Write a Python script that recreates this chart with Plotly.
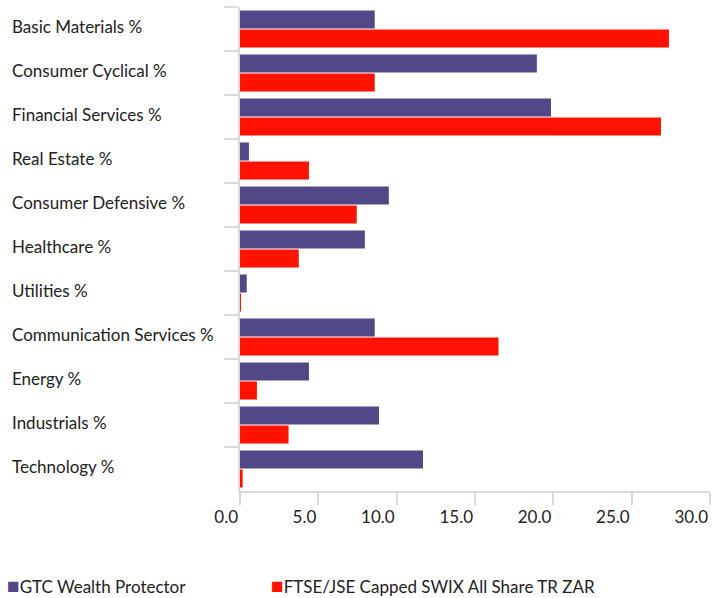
import plotly.graph_objects as go

categories = [
    "Basic Materials %",
    "Consumer Cyclical %",
    "Financial Services %",
    "Real Estate %",
    "Consumer Defensive %",
    "Healthcare %",
    "Utilities %",
    "Communication Services %",
    "Energy %",
    "Industrials %",
    "Technology %",
]
gtc_values = [8.6, 18.95, 19.85, 0.57, 9.5, 7.97, 0.43, 8.6, 4.4, 8.87, 11.68]
ftse_values = [27.38, 8.6, 26.87, 4.4, 7.45, 3.75, 0.05, 16.5, 1.08, 3.1, 0.17]
series_names = ["GTC Wealth Protector", "FTSE/JSE Capped SWIX All Share TR ZAR"]
x_ticks = [0, 5, 10, 15, 20, 25, 30]

PURPLE = "#524888"
RED = "#FF1200"
GRID = "#d9d9d9"
FONT = "Lato"
TEXT = "#222222"

fig = go.Figure()
fig.add_trace(go.Bar(y=categories, x=gtc_values, orientation="h", name=series_names[0],
                     marker=dict(color=PURPLE, line=dict(width=0))))
fig.add_trace(go.Bar(y=categories, x=ftse_values, orientation="h", name=series_names[1],
                     marker=dict(color=RED, line=dict(width=0))))

L, R, T, B = 240, 2, 7, 107
W, H = 712, 598
pw = W - L - R
ph = H - T - B

annotations = []
for c in categories:
    annotations.append(dict(text=c, xref="paper", yref="y", x=(10 - L) / pw, y=c,
                            xanchor="left", yanchor="middle", showarrow=False, yshift=3,
                            font=dict(family=FONT, size=17, color=TEXT)))
legend_colors = [PURPLE, RED]
legend_x = [5, 269]
for name, col, lx in zip(series_names, legend_colors, legend_x):
    annotations.append(dict(text=f"<span style='color:{col};font-size:21px'>■</span>{name}",
                            xref="paper", yref="paper", x=(lx - L) / pw,
                            y=-(584 - T - ph) / ph,
                            xanchor="left", yanchor="middle", showarrow=False,
                            font=dict(family=FONT, size=17, color=TEXT)))

fig.update_layout(
    width=W, height=H,
    margin=dict(l=L, r=R, t=T, b=B, pad=0),
    paper_bgcolor="white", plot_bgcolor="white",
    barmode="group", bargap=0.136, bargroupgap=0.05,
    showlegend=False,
    font=dict(family=FONT, size=17, color=TEXT),
    annotations=annotations,
)
fig.update_xaxes(range=[0, 30], tickvals=x_ticks, tickformat=".1f",
                 ticks="outside", ticklen=12, tickwidth=2, tickcolor=GRID,
                 showline=True, linecolor=GRID, linewidth=2, showgrid=False,
                 zeroline=False, ticklabelposition="outside left", ticklabelstandoff=10,
                 tickfont=dict(family=FONT, size=17, color=TEXT))
fig.update_yaxes(autorange="reversed", tickson="boundaries", ticks="outside",
                 ticklen=14, tickwidth=2, tickcolor=GRID, showticklabels=False,
                 showline=True, linecolor=GRID, linewidth=2, showgrid=False,
                 zeroline=False)

fig.write_html("out.html", config={"displayModeBar": False},
               post_script="document.body.style.margin='0';document.body.style.overflow='hidden';")
